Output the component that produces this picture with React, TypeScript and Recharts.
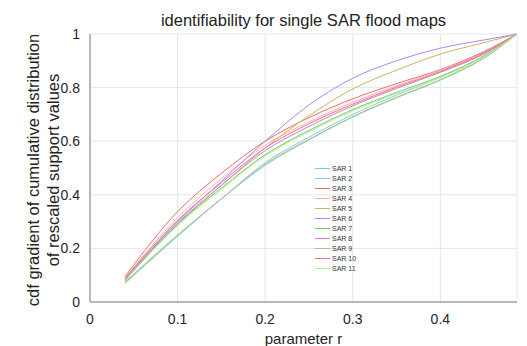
import { LineChart, Line, XAxis, YAxis, CartesianGrid, Label } from 'recharts'

// parameter r sample points
const rValues = [0.04, 0.1, 0.15, 0.2, 0.25, 0.3, 0.35, 0.4, 0.45, 0.4875]

const sar1 = [0.07, 0.245, 0.385, 0.51, 0.605, 0.69, 0.762, 0.828, 0.91, 1]
const sar2 = [0.075, 0.25, 0.385, 0.52, 0.615, 0.7, 0.772, 0.838, 0.92, 1]
const sar3 = [0.095, 0.337, 0.48, 0.6, 0.688, 0.758, 0.815, 0.867, 0.935, 1]
const sar4 = [0.09, 0.315, 0.46, 0.585, 0.672, 0.745, 0.807, 0.864, 0.93, 1]
const sar5 = [0.08, 0.29, 0.435, 0.575, 0.695, 0.795, 0.865, 0.925, 0.968, 1]
const sar6 = [0.085, 0.3, 0.45, 0.6, 0.735, 0.835, 0.9, 0.947, 0.978, 1]
const sar7 = [0.08, 0.29, 0.425, 0.55, 0.64, 0.718, 0.782, 0.842, 0.918, 1]
const sar8 = [0.085, 0.295, 0.435, 0.565, 0.655, 0.732, 0.797, 0.857, 0.926, 1]
const sar9 = [0.072, 0.25, 0.385, 0.515, 0.607, 0.692, 0.764, 0.83, 0.912, 1]
const sar10 = [0.088, 0.305, 0.445, 0.575, 0.665, 0.738, 0.802, 0.86, 0.93, 1]
const sar11 = [0.08, 0.285, 0.42, 0.545, 0.635, 0.713, 0.778, 0.838, 0.916, 1]

const seriesNames = ['SAR 1', 'SAR 2', 'SAR 3', 'SAR 4', 'SAR 5', 'SAR 6', 'SAR 7', 'SAR 8', 'SAR 9', 'SAR 10', 'SAR 11']
const seriesValues = [sar1, sar2, sar3, sar4, sar5, sar6, sar7, sar8, sar9, sar10, sar11]
const seriesColors = [
  '#6fd6b8', '#8fc6ee', '#f46a6a', '#f5b49e', '#c9b46c', '#a98af5',
  '#6cd06c', '#d27ad4', '#b9bf8c', '#ec7290', '#b8f27c',
]

const xTicks = [0, 0.1, 0.2, 0.3, 0.4]
const yTicks = [0, 0.2, 0.4, 0.6, 0.8, 1]

const data = rValues.map((r, i) => {
  const row: Record<string, number> = { r }
  seriesNames.forEach((name, s) => {
    row[name] = seriesValues[s][i]
  })
  return row
})

const font = 'Arial, "Liberation Sans", sans-serif'

function LegendBox() {
  return (
    <div style={{ position: 'absolute', left: 315, top: 163, fontFamily: font, fontSize: 7, color: '#333' }}>
      {seriesNames.map((name, i) => (
        <div key={name} style={{ display: 'flex', alignItems: 'center', height: 10.1 }}>
          <div style={{ width: 15, height: 1, background: seriesColors[i], marginRight: 2 }} />
          <span>{name}</span>
        </div>
      ))}
    </div>
  )
}

export default function App() {
  return (
    <div style={{ position: 'absolute', left: 0, top: 0, width: 527, height: 346, background: '#fff' }}>
      <LineChart
        width={527}
        height={346}
        data={data}
        margin={{ top: 34, right: 10, bottom: 14, left: 50 }}
        style={{ position: 'absolute', left: 0, top: 0 }}
      >
        <CartesianGrid stroke="#e6e6e6" strokeWidth={1} />
        <XAxis
          dataKey="r"
          type="number"
          domain={[0, 0.4875]}
          ticks={xTicks}
          tickFormatter={(v: number) => String(v)}
          tickLine={false}
          axisLine={{ stroke: '#a6a6a6', strokeWidth: 1.5 }}
          tick={{ fill: '#262626', fontSize: 14, fontFamily: font }}
          tickMargin={6}
          height={30}
          allowDataOverflow
        >
          <Label value="parameter r" position="insideBottom" offset={-12} fill="#262626" fontSize={15} fontFamily={font} />
        </XAxis>
        <YAxis
          type="number"
          domain={[0, 1]}
          ticks={yTicks}
          tickFormatter={(v: number) => String(v)}
          tickLine={false}
          axisLine={{ stroke: '#a6a6a6', strokeWidth: 1.5 }}
          tick={{ fill: '#262626', fontSize: 14, fontFamily: font }}
          tickMargin={4}
          width={40}
        />
        {seriesNames.map((name, i) => (
          <Line
            key={name}
            dataKey={name}
            stroke={seriesColors[i]}
            strokeWidth={1}
            dot={false}
            type="monotone"
            isAnimationActive={false}
          />
        ))}
      </LineChart>
      <LegendBox />
      <div
        style={{
          position: 'absolute', left: 90, width: 427, top: 10, textAlign: 'center',
          fontFamily: font, fontSize: 16.5, lineHeight: '20px', color: '#222', whiteSpace: 'nowrap',
        }}
      >
        identifiability for single SAR flood maps
      </div>
      <div
        style={{
          position: 'absolute', left: 43 - 160, top: 170 - 20, width: 320, height: 40,
          transform: 'rotate(-90deg)', textAlign: 'center', fontFamily: font, fontSize: 16.5,
          lineHeight: '20px', color: '#222', whiteSpace: 'nowrap',
        }}
      >
        cdf gradient of cumulative distribution
        <br />
        of rescaled support values
      </div>
    </div>
  )
}
